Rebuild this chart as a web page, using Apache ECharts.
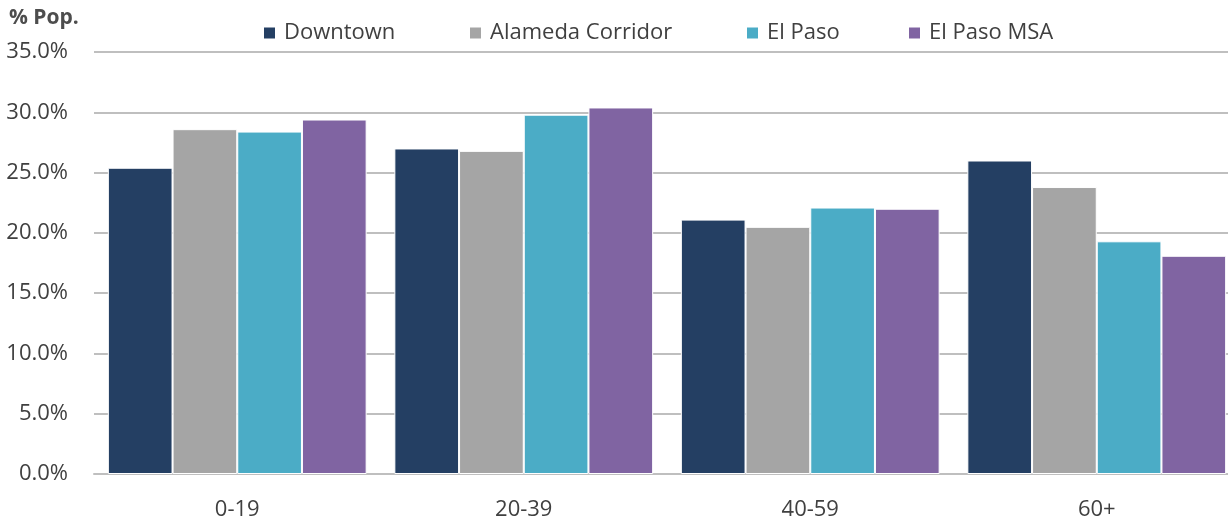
<!DOCTYPE html>
<html>
<head>
<meta charset="utf-8">
<script src="https://cdn.jsdelivr.net/npm/echarts@6/dist/echarts.min.js"></script>
<style>
  html, body { margin: 0; padding: 0; background: #fff; }
  #chart { width: 1228px; height: 521px; }
</style>
</head>
<body>
<div id="chart"></div>
<script>
// Population share by age group
const ageGroups = ['0-19', '20-39', '40-59', '60+'];
const seriesNames = ['Downtown', 'Alameda Corridor', 'El Paso', 'El Paso MSA'];
const downtown = [25.4, 27.0, 21.1, 26.0];
const alamedaCorridor = [28.6, 26.8, 20.5, 23.8];
const elPaso = [28.4, 29.8, 22.1, 19.3];
const elPasoMsa = [29.4, 30.4, 22.0, 18.1];
const seriesValues = [downtown, alamedaCorridor, elPaso, elPasoMsa];
const seriesColors = ['#243F63', '#A5A5A5', '#4BACC6', '#8064A2'];
const legendLeft = [257, 463, 740, 902];

const font = "'Open Sans', 'DejaVu Sans', sans-serif";
const textColor = '#404040';
const gridColor = '#BFBFBF';

const chart = echarts.init(document.getElementById('chart'), null, { renderer: 'canvas' });

const legends = seriesNames.map((name, i) => ({
  data: [name],
  left: legendLeft[i],
  top: 17,
  icon: 'rect',
  itemWidth: 13,
  itemHeight: 13,
  itemGap: 0,
  selectedMode: false,
  textStyle: { fontFamily: font, fontSize: 22, color: textColor, padding: [0, 0, 0, 3] }
}));

chart.setOption({
  animation: false,
  title: {
    text: '% Pop.',
    left: 4,
    top: 3,
    textStyle: { fontFamily: font, fontSize: 21, fontWeight: 'bold', color: '#4D4D4D' }
  },
  legend: legends,
  grid: { left: 94, top: 52, width: 1146, height: 422, containLabel: false, outerBoundsMode: 'none' },
  xAxis: {
    type: 'category',
    data: ageGroups,
    axisTick: { show: false },
    axisLine: { show: true, lineStyle: { color: gridColor, width: 2 } },
    axisLabel: { fontFamily: font, fontSize: 22, color: textColor, margin: 25 }
  },
  yAxis: {
    type: 'value',
    min: 0,
    max: 35,
    interval: 5,
    axisLine: { show: false },
    axisTick: { show: false },
    splitLine: { lineStyle: { color: gridColor, width: 2 } },
    axisLabel: {
      fontFamily: font, fontSize: 22, color: textColor, margin: 26,
      formatter: v => v.toFixed(1) + '%'
    }
  },
  series: seriesNames.map((name, i) => ({
    name,
    type: 'bar',
    data: seriesValues[i],
    barWidth: 64.7,
    barGap: '0%',
    itemStyle: { color: seriesColors[i], borderColor: '#ffffff', borderWidth: 1 }
  }))
});
</script>
</body>
</html>
